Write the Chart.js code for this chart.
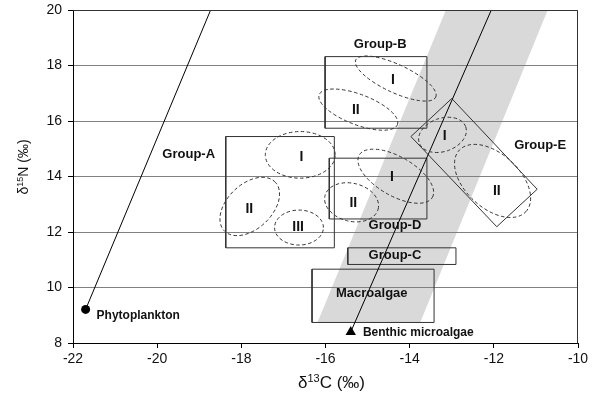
<!DOCTYPE html>
<html>
<head>
<meta charset="utf-8">
<script src="https://cdn.jsdelivr.net/npm/chart.js@4/dist/chart.umd.min.js"></script>
<style>
    html, body { margin: 0; padding: 0; background: #fff; }
    #wrap { width: 595px; height: 395px; }
</style>
</head>
<body>
<div id="wrap"><canvas id="chart"></canvas></div>
<script>
// ------ Data ------
var xTicks = [-22, -20, -18, -16, -14, -12, -10];
var yTicks = [8, 10, 12, 14, 16, 18, 20];

// food sources (end members)
var sourceNames = ['Phytoplankton', 'Benthic microalgae'];
var sourceX = [-21.70, -15.40];
var sourceY = [9.21, 8.40];
// where each mixing line leaves the top of the plot (y = 20)
var lineTopX = [-18.73, -12.06];
var lineTopY = [20, 20];

// grey band (corners, counter-clockwise from lower left)
var bandX = [-16.19, -13.75, -10.72, -13.14];
var bandY = [8.74, 8.74, 20, 20];

// rectangular group boxes
var boxNames = ['Group-A', 'Group-B', 'Group-C', 'Group-D', 'Macroalgae'];
var boxLeft = [-18.37, -16.01, -15.47, -15.91, -16.32];
var boxRight = [-15.79, -13.59, -12.90, -13.59, -13.42];
var boxLow = [11.43, 15.74, 10.83, 12.47, 8.74];
var boxHigh = [15.44, 18.32, 11.43, 14.66, 10.66];

// tilted Group-E box corners
var groupEX = [-13.00, -10.97, -11.93, -13.97];
var groupEY = [16.81, 13.54, 12.19, 15.44];

// dashed ellipses: centre, end of one semi-axis, end of the other
var ellCX = [-16.60, -17.80, -16.63, -14.33, -15.22, -14.33, -15.38, -13.22, -12.03];
var ellCY = [14.78, 12.92, 12.16, 17.53, 16.41, 14.01, 13.07, 15.50, 13.84];
var ellAX = [-15.77, -17.19, -16.05, -13.38, -14.29, -13.46, -14.75, -12.67, -11.24];
var ellAY = [14.78, 13.79, 12.16, 16.86, 15.87, 13.25, 12.82, 15.80, 12.73];
var ellBX = [-16.60, -18.16, -16.63, -14.19, -15.09, -14.10, -15.26, -13.36, -11.59];
var ellBY = [15.62, 13.51, 12.79, 17.99, 16.92, 14.62, 13.73, 16.06, 14.55];

// roman numerals for the sub-clusters
var numText = ['I', 'II', 'III', 'I', 'II', 'I', 'II', 'I', 'II'];
var numX = [-16.57, -17.81, -16.65, -14.40, -15.28, -14.42, -15.34, -13.17, -11.93];
var numY = [14.71, 12.83, 12.19, 17.48, 16.40, 13.99, 13.03, 15.47, 13.49];

// group captions
var capText = ['Group-A', 'Group-B', 'Group-C', 'Group-D', 'Group-E', 'Macroalgae'];
var capX = [-19.25, -14.70, -14.35, -14.35, -10.90, -14.90];
var capY = [14.78, 18.75, 11.17, 12.25, 15.11, 9.78];

// source captions (left aligned)
var srcCapX = [-21.44, -15.11];
var srcCapY = [9.00, 8.36];

var FONT = '"Liberation Sans", Arial, Helvetica, sans-serif';

// ------ Build datasets ------
var datasets = [];

// mixing lines
for (var i = 0; i < sourceX.length; i++) {
    datasets.push({
        data: [{ x: sourceX[i], y: sourceY[i] }, { x: lineTopX[i], y: lineTopY[i] }],
        showLine: true, borderColor: '#000', borderWidth: 1, pointRadius: 0, tension: 0
    });
}

// boxes
boxNames.forEach(function(name, i) {
    datasets.push({
        label: name,
        data: [
            { x: boxLeft[i], y: boxLow[i] }, { x: boxRight[i], y: boxLow[i] },
            { x: boxRight[i], y: boxHigh[i] }, { x: boxLeft[i], y: boxHigh[i] },
            { x: boxLeft[i], y: boxLow[i] }
        ],
        showLine: true, borderColor: '#333', borderWidth: 1, pointRadius: 0, tension: 0
    });
});

// Group-E tilted box
var ePts = groupEX.map(function(x, i) { return { x: x, y: groupEY[i] }; });
ePts.push({ x: groupEX[0], y: groupEY[0] });
datasets.push({
    label: 'Group-E', data: ePts,
    showLine: true, borderColor: '#333', borderWidth: 1, pointRadius: 0, tension: 0
});

// source markers
datasets.push({
    label: 'Sources',
    data: sourceX.map(function(x, i) { return { x: x, y: sourceY[i] }; }),
    showLine: false,
    pointStyle: ['circle', 'triangle'],
    pointRadius: [4.5, 6],
    backgroundColor: '#000', borderColor: '#000', borderWidth: 0
});

// ------ Extra drawing: band, ellipses, captions, titles ------
function drawRich(ctx, parts, x, y) {
    // parts: [text, size, raise]
    var total = 0;
    parts.forEach(function(p) {
        ctx.font = p[1] + 'px ' + FONT;
        p.w = ctx.measureText(p[0]).width;
        total += p.w;
    });
    var cx = x - total / 2;
    ctx.textAlign = 'left';
    ctx.textBaseline = 'alphabetic';
    parts.forEach(function(p) {
        ctx.font = p[1] + 'px ' + FONT;
        ctx.fillText(p[0], cx, y - p[2]);
        cx += p.w;
    });
}

var overlay = {
    id: 'overlay',
    beforeDraw: function(chart) {
        var ctx = chart.ctx, a = chart.chartArea;
        var xs = chart.scales.x, ys = chart.scales.y;
        ctx.save();
        ctx.beginPath();
        ctx.rect(a.left, a.top, a.right - a.left, a.bottom - a.top);
        ctx.clip();
        ctx.beginPath();
        bandX.forEach(function(x, i) {
            var px = xs.getPixelForValue(x), py = ys.getPixelForValue(bandY[i]);
            if (i === 0) ctx.moveTo(px, py); else ctx.lineTo(px, py);
        });
        ctx.closePath();
        ctx.fillStyle = '#d9d9d9';
        ctx.fill();
        ctx.restore();
    },
    afterDatasetsDraw: function(chart) {
        var ctx = chart.ctx;
        var xs = chart.scales.x, ys = chart.scales.y;
        function X(v) { return xs.getPixelForValue(v); }
        function Y(v) { return ys.getPixelForValue(v); }

        // dashed ellipses
        ctx.save();
        ellCX.forEach(function(cx, i) {
            var c0 = X(cx), c1 = Y(ellCY[i]);
            var u0 = X(ellAX[i]) - c0, u1 = Y(ellAY[i]) - c1;
            var v0 = X(ellBX[i]) - c0, v1 = Y(ellBY[i]) - c1;
            ctx.save();
            ctx.transform(u0, u1, v0, v1, c0, c1);
            ctx.beginPath();
            ctx.arc(0, 0, 1, 0, Math.PI * 2);
            ctx.restore();
            ctx.setLineDash([3.5, 2.5]);
            ctx.lineWidth = 1;
            ctx.strokeStyle = '#333';
            ctx.stroke();
        });
        ctx.restore();

        // captions
        ctx.save();
        ctx.fillStyle = '#111';
        ctx.textBaseline = 'middle';
        ctx.textAlign = 'center';
        ctx.font = 'bold 14px ' + FONT;
        numText.forEach(function(t, i) { ctx.fillText(t, X(numX[i]), Y(numY[i])); });
        ctx.font = 'bold 13px ' + FONT;
        capText.forEach(function(t, i) { ctx.fillText(t, X(capX[i]), Y(capY[i])); });
        ctx.textAlign = 'left';
        ctx.font = 'bold 12px ' + FONT;
        sourceNames.forEach(function(t, i) { ctx.fillText(t, X(srcCapX[i]), Y(srcCapY[i])); });
        ctx.restore();
    },
    afterDraw: function(chart) {
        var ctx = chart.ctx, a = chart.chartArea;
        // top and right frame
        ctx.save();
        ctx.strokeStyle = '#333';
        ctx.lineWidth = 1;
        ctx.beginPath();
        ctx.moveTo(Math.round(a.left) + 0.5, Math.round(a.top) + 0.5);
        ctx.lineTo(Math.round(a.right) - 0.5, Math.round(a.top) + 0.5);
        ctx.lineTo(Math.round(a.right) - 0.5, Math.round(a.bottom) + 0.5);
        ctx.stroke();

        // axis titles with superscripts
        ctx.fillStyle = '#111';
        drawRich(ctx, [['δ', 17, 0], ['13', 11, 6], ['C (‰)', 17, 0]], (a.left + a.right) / 2 + 6, 388);
        ctx.translate(28, 167);
        ctx.rotate(-Math.PI / 2);
        drawRich(ctx, [['δ', 14, 0], ['15', 9, 5], ['N (‰)', 14, 0]], 0, 0);
        ctx.restore();
    }
};

// ------ Chart ------
new Chart(document.getElementById('chart'), {
    type: 'scatter',
    data: { datasets: datasets },
    plugins: [overlay],
    options: {
        responsive: true,
        maintainAspectRatio: false,
        animation: false,
        layout: { padding: { left: 0, right: 17, top: 10, bottom: 0 } },
        plugins: { legend: { display: false }, tooltip: { enabled: false } },
        scales: {
            x: {
                type: 'linear', min: -22, max: -10,
                afterBuildTicks: function(s) { s.ticks = xTicks.map(function(v) { return { value: v }; }); },
                afterFit: function(s) { s.height = 52; s.paddingLeft = 0; s.paddingRight = 0; },
                grid: { drawOnChartArea: false, tickLength: 5, tickColor: '#000' },
                border: { display: true, color: '#000' },
                ticks: { color: '#111', padding: 3, font: { size: 14, family: FONT } }
            },
            y: {
                type: 'linear', min: 8, max: 20,
                afterBuildTicks: function(s) { s.ticks = yTicks.map(function(v) { return { value: v }; }); },
                afterFit: function(s) { s.width = 73; s.paddingTop = 0; s.paddingBottom = 0; },
                grid: { color: '#808080', tickLength: 5, tickColor: '#000' },
                border: { display: true, color: '#000' },
                ticks: { color: '#111', padding: 6, font: { size: 14, family: FONT } }
            }
        }
    }
});
</script>
</body>
</html>
